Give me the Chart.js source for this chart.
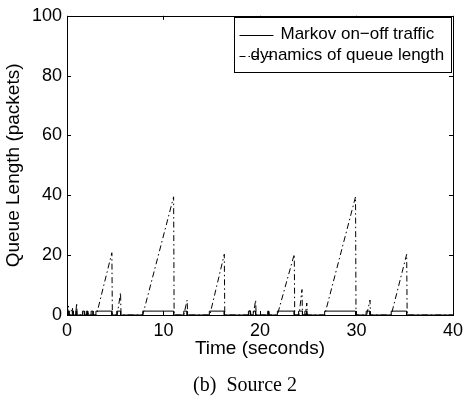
<!DOCTYPE html>
<html lang="en">
<head>
  <meta charset="UTF-8" />
  <title>Source 2 queue</title>
  <script src="https://cdn.jsdelivr.net/npm/chart.js"></script>
  <style>
    html, body { margin: 0; padding: 0; background: #fff; }
    #wrap { width: 468px; height: 401px; position: relative; }
  </style>
</head>
<body>
  <div id="wrap"><canvas id="chart"></canvas></div>

  <script>
    // queue length trace (dash-dot), time in seconds, packets
    const queueTimes  = [0, 0.15, 0.25, 0.3, 0.55, 0.65, 0.9, 1.0, 1.05, 2.0, 2.15, 2.2,
                         3.05, 4.65, 4.7, 5.2, 5.55, 5.6, 7.85, 11.05, 11.1, 12.1, 12.45, 12.5,
                         14.8, 16.3, 16.35, 18.8, 19.0, 19.05, 19.3, 19.55, 19.6, 20.8, 20.9, 20.95,
                         21.8, 23.55, 23.6, 24.05, 24.35, 24.4, 24.7, 24.85, 24.9,
                         26.7, 29.9, 29.95, 31.05, 31.4, 31.45, 33.6, 35.2, 35.25, 40];
    const queueValues = [0, 3, 0, 0, 2.5, 0, 0, 4, 0, 0, 1.5, 0,
                         0, 20.8, 0, 0, 7.5, 0, 0, 39.5, 0, 0, 5, 0,
                         0, 20.3, 0, 0, 2, 0, 0, 5, 0, 0, 1.5, 0,
                         0, 20.3, 0, 0, 8.5, 0, 0, 4, 0,
                         0, 39.5, 0, 0, 5, 0, 0, 20.3, 0, 0];

    // Markov on-off source (solid), on periods
    const trafficOn  = [0.1, 0.55, 0.9, 1.6, 2.0, 2.5, 3.0, 5.15, 7.85, 12.1, 14.75, 18.8, 19.3, 20.8, 21.8, 24.0, 24.65, 26.7, 31.0, 33.6];
    const trafficOff = [0.2, 0.65, 1.0, 1.8, 2.15, 2.7, 4.65, 5.55, 11.05, 12.45, 16.3, 19.0, 19.55, 20.9, 23.55, 24.4, 24.85, 29.9, 31.4, 35.2];
    const trafficLevel = 1.3;

    const xTicks = [0, 10, 20, 30, 40];
    const yTicks = [0, 20, 40, 60, 80, 100];
    const caption = '(b)  Source 2';

    const queueData = queueTimes.map((t, i) => ({ x: t, y: queueValues[i] }));
    const trafficData = [{ x: 0, y: 0 }];
    trafficOn.forEach((t, i) => {
      trafficData.push({ x: t, y: 0 }, { x: t, y: trafficLevel },
                       { x: trafficOff[i], y: trafficLevel }, { x: trafficOff[i], y: 0 });
    });
    trafficData.push({ x: 40, y: 0 });

    const sans = 'Helvetica, "Liberation Sans", Arial, sans-serif';

    // box + inward ticks on all four sides, like matlab
    const framePlugin = {
      id: 'frame',
      afterDatasetsDraw(chart) {
        const { ctx, chartArea: a, scales } = chart;
        const len = 4;
        ctx.save();
        ctx.strokeStyle = '#000';
        ctx.lineWidth = 1;
        ctx.beginPath();
        xTicks.forEach(v => {
          const px = Math.round(scales.x.getPixelForValue(v)) + 0.5;
          ctx.moveTo(px, a.bottom); ctx.lineTo(px, a.bottom - len);
          ctx.moveTo(px, a.top); ctx.lineTo(px, a.top + len);
        });
        yTicks.forEach(v => {
          const py = Math.round(scales.y.getPixelForValue(v)) + 0.5;
          ctx.moveTo(a.left, py); ctx.lineTo(a.left + len, py);
          ctx.moveTo(a.right, py); ctx.lineTo(a.right - len, py);
        });
        ctx.stroke();
        ctx.strokeRect(Math.round(a.left) + 0.5, Math.round(a.top) + 0.5,
                       Math.round(a.right - a.left), Math.round(a.bottom - a.top));
        ctx.restore();
      }
    };

    // legend drawn inside the axes, top right, plus the subfigure caption
    const legendPlugin = {
      id: 'boxLegend',
      afterDraw(chart) {
        const { ctx, chartArea: a } = chart;
        const w = 217, h = 55;
        const left = Math.round(a.right - w - 2) + 0.5;
        const top = Math.round(a.top + 1) + 0.5;
        ctx.save();
        ctx.fillStyle = '#fff';
        ctx.fillRect(left, top, w, h);
        ctx.strokeStyle = '#000';
        ctx.lineWidth = 1;
        ctx.strokeRect(left, top, w, h);
        ctx.font = '17px ' + sans;
        ctx.textBaseline = 'middle';
        ctx.fillStyle = '#000';
        chart.data.datasets.forEach((ds, i) => {
          const y = top + 17 + i * 21;
          ctx.beginPath();
          ctx.setLineDash(ds.borderDash || []);
          ctx.moveTo(left + 5, Math.round(y) + 0.5);
          ctx.lineTo(left + 39, Math.round(y) + 0.5);
          ctx.stroke();
          ctx.setLineDash([]);
          ctx.fillText(ds.label, left + (i === 0 ? 46 : 16), y);
        });

        // caption under the figure
        ctx.font = '20px "Liberation Serif", "Times New Roman", serif';
        ctx.textAlign = 'center';
        ctx.fillText(caption, (a.left + a.right) / 2 - 15, 386);
        ctx.restore();
      }
    };

    new Chart(document.getElementById('chart'), {
      type: 'line',
      data: {
        datasets: [
          {
            label: 'Markov on\u2212off traffic',
            data: trafficData,
            borderColor: '#000',
            borderWidth: 1,
            pointRadius: 0,
            tension: 0
          },
          {
            label: 'dynamics of queue length',
            data: queueData,
            borderColor: '#000',
            borderWidth: 1,
            borderDash: [6, 3, 1.5, 3],
            pointRadius: 0,
            tension: 0
          }
        ]
      },
      options: {
        responsive: true,
        maintainAspectRatio: false,
        animation: false,
        layout: { padding: { left: 0, right: 12, top: 11, bottom: 41 } },
        plugins: {
          legend: { display: false },
          tooltip: { enabled: false }
        },
        scales: {
          x: {
            type: 'linear',
            min: 0, max: 40,
            afterBuildTicks: s => { s.ticks = xTicks.map(v => ({ value: v })); },
            afterFit: s => { s.height = 45; },
            grid: { display: false, drawTicks: false },
            border: { display: false },
            ticks: { color: '#000', padding: 5, maxRotation: 0, font: { family: sans, size: 18 } },
            title: {
              display: true, text: 'Time (seconds)', color: '#000',
              font: { family: sans, size: 19 }, padding: { top: 0, bottom: 0 }
            }
          },
          y: {
            min: 0, max: 100,
            afterBuildTicks: s => { s.ticks = yTicks.map(v => ({ value: v })); },
            afterFit: s => { s.width = 67; },
            grid: { display: false, drawTicks: false },
            border: { display: false },
            ticks: { color: '#000', padding: 5, font: { family: sans, size: 18 } },
            title: {
              display: true, text: 'Queue Length (packets)', color: '#000',
              font: { family: sans, size: 19 }, padding: { top: 2, bottom: 0 }
            }
          }
        }
      },
      plugins: [framePlugin, legendPlugin]
    });
  </script>
</body>
</html>
